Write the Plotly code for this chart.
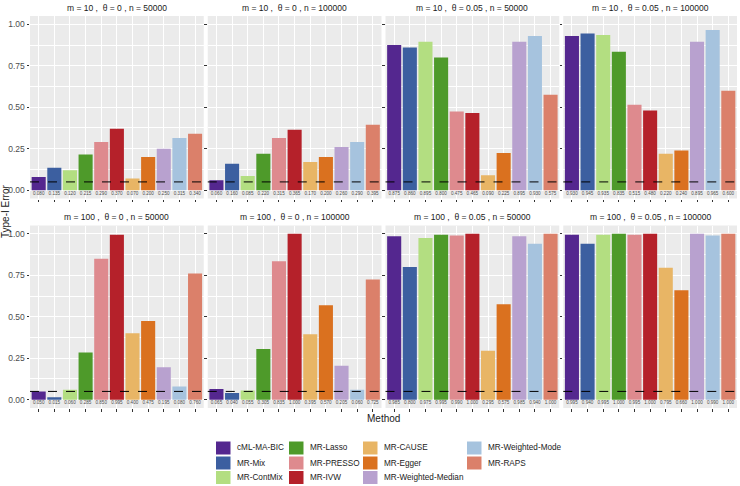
import plotly.graph_objects as go
from plotly.subplots import make_subplots

methods = ["cML-MA-BIC", "MR-Mix", "MR-ContMix", "MR-Lasso", "MR-PRESSO", "MR-IVW",
           "MR-CAUSE", "MR-Egger", "MR-Weighted-Median", "MR-Weighted-Mode", "MR-RAPS"]
colors = ["#54278F", "#3C5FA0", "#B3DE81", "#4E9A2A", "#DE8A8E", "#B5212A",
          "#E8B565", "#DA711F", "#B8A1CF", "#A6C3DE", "#DB806A"]

panel_titles = [
    "m = 10 ,  θ = 0 , n = 50000", "m = 10 ,  θ = 0 , n = 100000",
    "m = 10 ,  θ = 0.05 , n = 50000", "m = 10 ,  θ = 0.05 , n = 100000",
    "m = 100 ,  θ = 0 , n = 50000", "m = 100 ,  θ = 0 , n = 100000",
    "m = 100 ,  θ = 0.05 , n = 50000", "m = 100 ,  θ = 0.05 , n = 100000",
]

p1 = [0.080, 0.135, 0.120, 0.215, 0.290, 0.370, 0.070, 0.200, 0.250, 0.315, 0.340]
p2 = [0.060, 0.160, 0.085, 0.220, 0.315, 0.365, 0.170, 0.200, 0.260, 0.290, 0.395]
p3 = [0.875, 0.860, 0.895, 0.800, 0.475, 0.465, 0.090, 0.225, 0.895, 0.930, 0.575]
p4 = [0.930, 0.945, 0.935, 0.835, 0.515, 0.480, 0.220, 0.240, 0.895, 0.965, 0.600]
p5 = [0.050, 0.015, 0.060, 0.285, 0.850, 0.995, 0.400, 0.475, 0.195, 0.080, 0.760]
p6 = [0.065, 0.040, 0.055, 0.305, 0.835, 1.000, 0.395, 0.570, 0.205, 0.060, 0.725]
p7 = [0.985, 0.800, 0.975, 0.995, 0.990, 1.000, 0.295, 0.575, 0.985, 0.940, 1.000]
p8 = [0.995, 0.940, 0.995, 1.000, 0.995, 1.000, 0.795, 0.660, 1.000, 0.990, 1.000]
panels = [p1, p2, p3, p4, p5, p6, p7, p8]

nominal = 0.05
y_ticks = [0.0, 0.25, 0.5, 0.75, 1.0]

W, H = 740, 486
ML, MR, MT, MB = 30, 3, 16, 78
PW, PH = W - ML - MR, H - MT - MB

fig = make_subplots(rows=2, cols=4, shared_yaxes=True,
                    horizontal_spacing=4 / PW, vertical_spacing=27 / PH,
                    subplot_titles=panel_titles)

for i, vals in enumerate(panels):
    r, c = i // 4 + 1, i % 4 + 1
    fig.add_trace(go.Bar(x=methods, y=vals, marker=dict(color=colors, line=dict(width=0)),
                         showlegend=False, hoverinfo="x+y"), row=r, col=c)
    fig.add_trace(go.Scatter(x=methods, y=[-0.022] * len(methods), mode="text",
                             text=[f"{v:.3f}" for v in vals],
                             textfont=dict(size=4.6, color="#4D4D4D", family="Liberation Sans, Arial"),
                             showlegend=False, hoverinfo="skip"), row=r, col=c)
    fig.add_hline(y=nominal, line=dict(color="black", dash="dash", width=1), row=r, col=c)

fig.update_layout(bargap=0.1)
fig.update_xaxes(showticklabels=False, showgrid=True, gridcolor="white", gridwidth=1,
                 zeroline=False, ticks="outside", ticklen=2.5, tickcolor="#333333",
                 showline=False)
fig.update_yaxes(range=[-0.05, 1.05], tickvals=y_ticks, tickformat=".2f",
                 showgrid=True, gridcolor="white", gridwidth=1, zeroline=False,
                 minor=dict(dtick=0.125, tick0=0.125, showgrid=True, gridcolor="white", gridwidth=0.5),
                 ticks="outside", ticklen=2.5, tickcolor="#333333",
                 tickfont=dict(size=8.5, color="#4D4D4D"))

for ann in fig.layout.annotations:
    ann.font = dict(size=8.5, color="#1A1A1A", family="Liberation Sans, Arial")
    ann.yshift = 1

fig.update_layout(
    width=W, height=H,
    margin=dict(l=ML, r=MR, t=MT, b=MB),
    plot_bgcolor="#EBEBEB", paper_bgcolor="white",
    font=dict(family="Liberation Sans, Arial", color="#1A1A1A"),
    showlegend=False,
)

def px_x(px):
    return (px - ML) / PW

def px_y(py):
    return (H - MB - py) / PH

fig.add_annotation(text="Method", x=px_x(383), y=px_y(418), xref="paper", yref="paper",
                   xanchor="center", yanchor="middle",
                   showarrow=False, font=dict(size=10, color="#1A1A1A"))
fig.add_annotation(text="Type-I Error", x=px_x(5), y=px_y(212), xref="paper", yref="paper",
                   xanchor="center", yanchor="middle",
                   showarrow=False, textangle=-90, font=dict(size=10, color="#1A1A1A"))

col_x = [216, 289, 363, 467]
row_y = [448, 463, 477.5]
for k, (m, col) in enumerate(zip(methods, colors)):
    cx, ry = col_x[k // 3], row_y[k % 3]
    fig.add_shape(type="rect", xref="paper", yref="paper",
                  x0=px_x(cx), x1=px_x(cx + 14.5), y0=px_y(ry - 6.5), y1=px_y(ry + 6.5),
                  fillcolor=col, line=dict(width=0))
    fig.add_annotation(text=m, x=px_x(cx + 19), y=px_y(ry), xref="paper", yref="paper",
                       xanchor="left", yanchor="middle",
                       showarrow=False, font=dict(size=8.2, color="#1A1A1A"))

fig.write_html("out.html", config={"displayModeBar": False},
               post_script="document.body.style.margin='0';")
